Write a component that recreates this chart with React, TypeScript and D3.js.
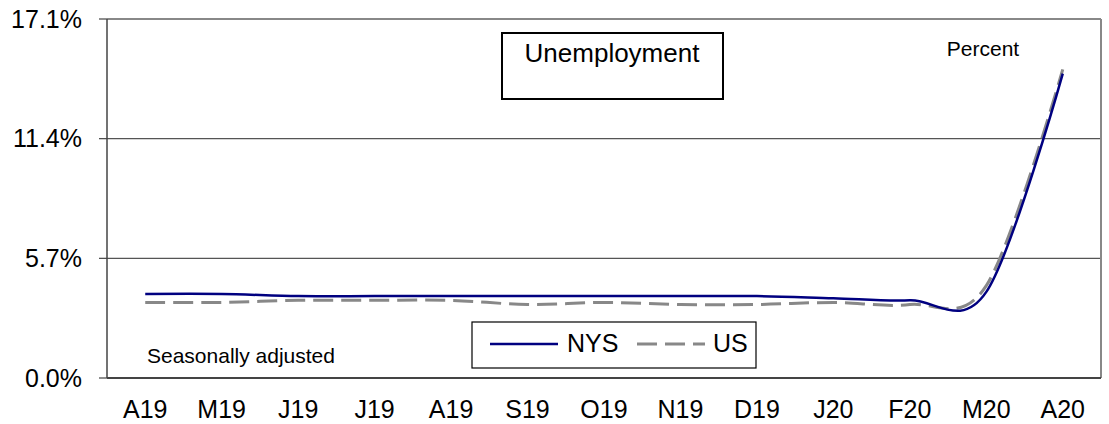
import React from 'react';
import * as d3 from 'd3';

// monthly labels, Apr 2019 .. Apr 2020
const months = ['A19', 'M19', 'J19', 'J19', 'A19', 'S19', 'O19', 'N19', 'D19', 'J20', 'F20', 'M20', 'A20'];
const nys = [4.0, 4.0, 3.9, 3.9, 3.9, 3.9, 3.9, 3.9, 3.9, 3.8, 3.7, 4.1, 14.5];
const us = [3.6, 3.6, 3.7, 3.7, 3.7, 3.5, 3.6, 3.5, 3.5, 3.6, 3.5, 4.4, 14.7];
const yTicks = [0, 5.7, 11.4, 17.1];

const W = 1109;
const H = 424;
const left = 107;
const right = 1101;
const top = 19;
const bottom = 378;
const font = "Arial, 'Liberation Sans', sans-serif";

const App = () => {
  const x = d3.scalePoint<number>()
    .domain(d3.range(months.length))
    .range([left, right])
    .padding(0.5);
  const y = d3.scaleLinear().domain([0, 17.1]).range([bottom, top]);

  const line = d3.line<number>()
    .x((d, i) => x(i) as number)
    .y((d) => y(d))
    .curve(d3.curveCardinal.tension(0));

  return (
    <svg width={W} height={H} style={{ position: 'absolute', left: 0, top: 0 }} fontFamily={font}>
      <rect width={W} height={H} fill="#fff" />

      {/* grid */}
      {yTicks.slice(1, 3).map((t) => (
        <line key={t} x1={left} x2={right} y1={y(t)} y2={y(t)} stroke="#555" strokeWidth={1.2} />
      ))}
      <line x1={left} x2={right} y1={top} y2={top} stroke="#888" strokeWidth={2} />
      <line x1={right} x2={right} y1={top} y2={bottom} stroke="#888" strokeWidth={2} />

      {/* y axis */}
      <line x1={left} x2={left} y1={top} y2={bottom} stroke="#444" strokeWidth={1.5} />
      {yTicks.map((t) => (
        <g key={t}>
          <line x1={left - 8} x2={left} y1={y(t)} y2={y(t)} stroke="#444" strokeWidth={1.2} />
          <text x={82} y={y(t)} dy="0.35em" textAnchor="end" fontSize={25} fill="#000">
            {t.toFixed(1)}%
          </text>
        </g>
      ))}

      {/* x axis */}
      <line x1={left} x2={right} y1={bottom} y2={bottom} stroke="#444" strokeWidth={2} />
      {months.map((m, i) => (
        <text key={i} x={x(i)} y={418} textAnchor="middle" fontSize={25} fill="#000">{m}</text>
      ))}

      {/* series */}
      <path d={line(us) || ''} fill="none" stroke="#888" strokeWidth={3} strokeDasharray="20 8" />
      <path d={line(nys) || ''} fill="none" stroke="#000080" strokeWidth={2.5} />

      {/* title box */}
      <rect x={502} y={33} width={221} height={66} fill="#fff" stroke="#000" strokeWidth={2} />
      <text x={612} y={62} textAnchor="middle" fontSize={26} fill="#000">Unemployment</text>

      <text x={983} y={56} textAnchor="middle" fontSize={21} fill="#000">Percent</text>
      <text x={147} y={363} fontSize={21} fill="#000">Seasonally adjusted</text>

      {/* legend */}
      <rect x={472} y={322} width={284} height={46} fill="#fff" stroke="#000" strokeWidth={1.2} />
      <line x1={490} x2={558} y1={344} y2={344} stroke="#000080" strokeWidth={2.5} />
      <text x={567} y={352} fontSize={25} fill="#000">NYS</text>
      <line x1={637} x2={705} y1={344} y2={344} stroke="#888" strokeWidth={3} strokeDasharray="20 8" />
      <text x={713} y={352} fontSize={25} fill="#000">US</text>
    </svg>
  );
};

export default App;
